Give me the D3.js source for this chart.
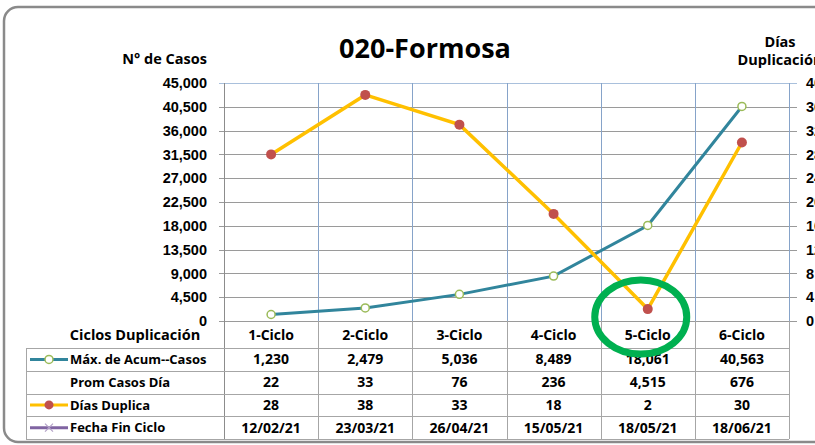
<!DOCTYPE html>
<html>
<head>
<meta charset="utf-8">
<script src="https://cdn.jsdelivr.net/npm/d3@7/dist/d3.min.js"></script>
<style>
  body { margin: 0; background: #fff; }
  svg { display: block; font-family: "Open Sans", "Noto Sans", Arial, sans-serif; }
  .tick-lbl { font-size: 14.5px; font-weight: 700; fill: #000; }
  .cell { font-size: 14px; font-weight: 700; fill: #000; }
  .row-lbl { font-size: 13px; font-weight: 700; fill: #000; }
</style>
</head>
<body>
<svg id="chart" width="815" height="445"></svg>
<script>
const ciclos = ["1-Ciclo", "2-Ciclo", "3-Ciclo", "4-Ciclo", "5-Ciclo", "6-Ciclo"];
const maxCasos = [1230, 2479, 5036, 8489, 18061, 40563];
const promCasos = [22, 33, 76, 236, 4515, 676];
const diasDuplica = [28, 38, 33, 18, 2, 30];
const fechaFin = ["12/02/21", "23/03/21", "26/04/21", "15/05/21", "18/05/21", "18/06/21"];
const leftTicks = [0, 4500, 9000, 13500, 18000, 22500, 27000, 31500, 36000, 40500, 45000];
const rightTicks = [0, 4, 8, 12, 16, 20, 24, 28, 32, 36, 40];
const rowLabels = ["Máx. de Acum--Casos", "Prom Casos Día", "Días Duplica", "Fecha Fin Ciclo"];

const svg = d3.select("#chart");
const fmt = d3.format(",");

const x = d3.scaleBand().domain(ciclos).range([224, 789]);
const yL = d3.scaleLinear().domain([0, 45000]).range([321, 83]);
const yR = d3.scaleLinear().domain([0, 40]).range([321, 83]);
const rowY = d3.scaleBand().domain(rowLabels).range([348, 439]);

// outer frame
svg.append("rect")
  .attr("x", 4).attr("y", 7).attr("width", 840).attr("height", 435)
  .attr("rx", 14)
  .attr("fill", "none").attr("stroke", "#8a8a8a").attr("stroke-width", 2.5);

// title
svg.append("text").attr("x", 425).attr("y", 58)
  .attr("text-anchor", "middle")
  .style("font-size", "27px").style("font-weight", 700)
  .text("020-Formosa");

svg.append("text").attr("x", 207).attr("y", 64)
  .attr("text-anchor", "end").attr("class", "tick-lbl")
  .text("N° de Casos");
svg.append("text").attr("x", 780).attr("y", 47)
  .attr("text-anchor", "middle").attr("class", "tick-lbl")
  .text("Días");
svg.append("text").attr("x", 780).attr("y", 65)
  .attr("text-anchor", "middle").attr("class", "tick-lbl")
  .text("Duplicación");

// horizontal gridlines
svg.append("g")
  .selectAll("line")
  .data(leftTicks)
  .join("line")
  .attr("x1", 219).attr("x2", 797)
  .attr("y1", d => Math.round(yL(d)) + 0.5).attr("y2", d => Math.round(yL(d)) + 0.5)
  .attr("stroke", d => d === 45000 ? "#a9c0dc" : "#9a9a9a")
  .attr("stroke-width", 1);

// vertical column lines in plot area
const bounds = ciclos.map(c => x(c)).concat([x.range()[1]]);
svg.append("g")
  .selectAll("line")
  .data(bounds.slice(1))
  .join("line")
  .attr("x1", d => Math.round(d) + 0.5).attr("x2", d => Math.round(d) + 0.5)
  .attr("y1", 83).attr("y2", 321)
  .attr("stroke", "#86a3c9");

// left axis line
svg.append("line")
  .attr("x1", 224.5).attr("x2", 224.5).attr("y1", 83).attr("y2", 439)
  .attr("stroke", "#8c8c8c");

// axes labels
const axL = svg.append("g").attr("transform", "translate(224,0)")
  .call(d3.axisLeft(yL).tickValues(leftTicks).tickFormat(fmt).tickSize(0).tickPadding(17));
axL.select(".domain").remove();
axL.selectAll("text").attr("class", "tick-lbl").attr("font-family", null).attr("font-size", null);

const axR = svg.append("g").attr("transform", "translate(789,0)")
  .call(d3.axisRight(yR).tickValues(rightTicks).tickSize(0).tickPadding(17));
axR.select(".domain").remove();
axR.selectAll("text").attr("class", "tick-lbl").attr("font-family", null).attr("font-size", null);

// table grid
const tbl = svg.append("g");
const rowEdges = [348].concat(rowLabels.map(r => rowY(r) + rowY.bandwidth()));
tbl.selectAll("line.h")
  .data(rowEdges)
  .join("line")
  .attr("x1", 26).attr("x2", 789)
  .attr("y1", d => Math.round(d) + 0.5).attr("y2", d => Math.round(d) + 0.5)
  .attr("stroke", "#a6a6a6");
tbl.selectAll("line.v")
  .data(bounds.slice(1))
  .join("line")
  .attr("x1", d => Math.round(d) + 0.5).attr("x2", d => Math.round(d) + 0.5)
  .attr("y1", 321).attr("y2", 439)
  .attr("stroke", "#a6a6a6");
tbl.append("line")
  .attr("x1", 26.5).attr("x2", 26.5).attr("y1", 348).attr("y2", 439)
  .attr("stroke", "#a6a6a6");

// table header
tbl.append("text").attr("x", 135).attr("y", 340)
  .attr("text-anchor", "middle").attr("class", "tick-lbl")
  .text("Ciclos Duplicación");
tbl.selectAll("text.hd")
  .data(ciclos)
  .join("text")
  .attr("class", "cell")
  .attr("x", d => x(d) + x.bandwidth() / 2)
  .attr("y", 340)
  .attr("text-anchor", "middle")
  .text(d => d);

// table rows
const rowValues = [maxCasos.map(fmt), promCasos.map(fmt), diasDuplica.map(String), fechaFin];
rowLabels.forEach((lab, i) => {
  const cy = rowY(lab) + rowY.bandwidth() / 2;
  tbl.append("text").attr("class", "row-lbl")
    .attr("x", 70).attr("y", cy).attr("dy", "0.36em")
    .text(lab);
  tbl.selectAll(null)
    .data(rowValues[i])
    .join("text")
    .attr("class", "cell")
    .attr("x", (d, j) => x(ciclos[j]) + x.bandwidth() / 2)
    .attr("y", cy).attr("dy", "0.36em")
    .attr("text-anchor", "middle")
    .text(d => d);
});

// legend keys
const key = (lab, color) => {
  const cy = rowY(lab) + rowY.bandwidth() / 2;
  tbl.append("line").attr("x1", 30).attr("x2", 68).attr("y1", cy).attr("y2", cy)
    .attr("stroke", color).attr("stroke-width", 3);
  return cy;
};
let ky = key(rowLabels[0], "#31859c");
tbl.append("circle").attr("cx", 49).attr("cy", ky).attr("r", 4)
  .attr("fill", "#fff").attr("stroke", "#9bbb59").attr("stroke-width", 1.5);
ky = key(rowLabels[2], "#ffc000");
tbl.append("circle").attr("cx", 49).attr("cy", ky).attr("r", 4.5).attr("fill", "#c0504d");
ky = key(rowLabels[3], "#8064a2");
tbl.append("path")
  .attr("d", `M45,${ky - 4}L53,${ky + 4}M45,${ky + 4}L53,${ky - 4}`)
  .attr("stroke", "#b3a2c7").attr("stroke-width", 1.2);

// series lines
const cx = (d, i) => x(ciclos[i]) + x.bandwidth() / 2;
svg.append("path")
  .datum(maxCasos)
  .attr("fill", "none").attr("stroke", "#31859c").attr("stroke-width", 3)
  .attr("d", d3.line().x(cx).y(d => yL(d)));
svg.append("path")
  .datum(diasDuplica)
  .attr("fill", "none").attr("stroke", "#ffc000").attr("stroke-width", 3.5)
  .attr("d", d3.line().x(cx).y(d => yR(d)));

svg.append("g").selectAll("circle")
  .data(maxCasos)
  .join("circle")
  .attr("cx", cx).attr("cy", d => yL(d)).attr("r", 4)
  .attr("fill", "#fff").attr("stroke", "#9bbb59").attr("stroke-width", 1.5);
svg.append("g").selectAll("circle")
  .data(diasDuplica)
  .join("circle")
  .attr("cx", cx).attr("cy", d => yR(d)).attr("r", 5)
  .attr("fill", "#c0504d");

// highlight ellipse on 5-Ciclo
svg.append("ellipse")
  .attr("cx", x("5-Ciclo") + x.bandwidth() / 2 - 7).attr("cy", 317)
  .attr("rx", 46).attr("ry", 37)
  .attr("fill", "none").attr("stroke", "#00b050").attr("stroke-width", 7);
</script>
</body>
</html>
